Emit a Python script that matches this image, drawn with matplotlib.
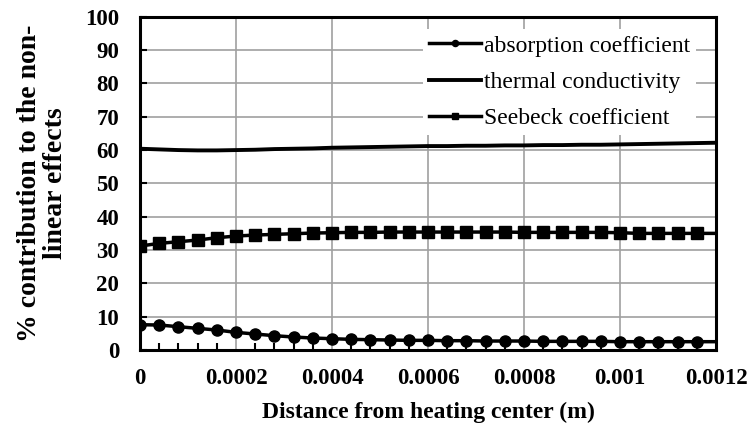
import matplotlib
matplotlib.use("Agg")
import matplotlib.pyplot as plt
from matplotlib.ticker import MultipleLocator

distance = [0.0, 0.00004, 0.00008, 0.00012, 0.00016, 0.0002, 0.00024, 0.00028,
            0.00032, 0.00036, 0.0004, 0.00044, 0.00048, 0.00052, 0.00056, 0.0006,
            0.00064, 0.00068, 0.00072, 0.00076, 0.0008, 0.00084, 0.00088, 0.00092,
            0.00096, 0.001, 0.00104, 0.00108, 0.00112, 0.00116, 0.0012]

absorption = [7.6, 7.5, 7.0, 6.5, 6.0, 5.3, 4.8, 4.3, 3.9, 3.6, 3.4, 3.2, 3.1, 3.0,
              2.9, 2.9, 2.8, 2.8, 2.7, 2.7, 2.7, 2.6, 2.6, 2.6, 2.6, 2.5, 2.5, 2.5,
              2.5, 2.5, 2.5]

thermal = [60.4, 60.2, 60.0, 59.9, 59.9, 60.0, 60.1, 60.3, 60.4, 60.5, 60.7, 60.8,
           60.9, 61.0, 61.1, 61.2, 61.2, 61.3, 61.3, 61.4, 61.4, 61.5, 61.5, 61.6,
           61.6, 61.7, 61.8, 61.9, 62.0, 62.1, 62.2]

seebeck = [31.2, 32.0, 32.5, 33.0, 33.7, 34.2, 34.5, 34.7, 34.9, 35.1, 35.2, 35.3,
           35.3, 35.4, 35.4, 35.4, 35.4, 35.4, 35.4, 35.4, 35.3, 35.3, 35.3, 35.3,
           35.3, 35.2, 35.0, 35.0, 35.0, 35.0, 35.0]

series_labels = ["absorption coefficient", "thermal conductivity", "Seebeck coefficient"]
x_ticks = [0.0, 0.0002, 0.0004, 0.0006, 0.0008, 0.001, 0.0012]
x_tick_labels = ["0", "0.0002", "0.0004", "0.0006", "0.0008", "0.001", "0.0012"]
y_ticks = [0, 10, 20, 30, 40, 50, 60, 70, 80, 90, 100]
y_tick_labels = ["0", "10", "20", "30", "40", "50", "60", "70", "80", "90", "100"]

serif = ["Liberation Serif", "DejaVu Serif"]
plt.rcParams["font.family"] = serif

fig = plt.figure(figsize=(7.5, 4.3), dpi=100)
ax = fig.add_axes([0.1867, 0.186, 0.768, 0.775])

mk = list(range(len(distance) - 1))
ax.plot(distance, absorption, color="black", lw=2.5, marker="o", ms=8,
        markevery=mk, label=series_labels[0], zorder=3)
ax.plot(distance, thermal, color="black", lw=2.8, label=series_labels[1], zorder=3)
ax.plot(distance, seebeck, color="black", lw=2.5, marker="s", ms=8,
        markevery=mk, label=series_labels[2], zorder=3)

ax.set_xlim(0, 0.0012)
ax.set_ylim(0, 100)
ax.set_xticks(x_ticks)
ax.set_xticklabels(x_tick_labels)
ax.set_yticks(y_ticks)
ax.set_yticklabels(y_tick_labels)
ax.xaxis.set_minor_locator(MultipleLocator(0.00004))

ax.grid(True, which="major", color="#a0a0a0", lw=1.2, zorder=0)
ax.tick_params(axis="x", which="major", length=0, pad=13, labelsize=16.5)
ax.tick_params(axis="x", which="minor", direction="in", length=5, width=1.5)
ax.tick_params(axis="y", which="major", direction="in", length=5, width=1.5,
               pad=15, labelsize=16.5)
for lab in ax.get_xticklabels() + ax.get_yticklabels():
    lab.set_fontweight("bold")
for s in ax.spines.values():
    s.set_linewidth(2.2)
    s.set_zorder(5)

leg = ax.legend(loc="upper right", bbox_to_anchor=(0.985, 0.998), fontsize=17,
                handlelength=2.2, handletextpad=0.1, labelspacing=0.62,
                borderpad=0.25, frameon=True, fancybox=False, framealpha=1,
                markerscale=0.55)
leg.get_frame().set_edgecolor("none")
leg.get_frame().set_facecolor("white")
leg.set_zorder(4)

ax.set_xlabel("Distance from heating center (m)", fontsize=17, fontweight="bold",
              labelpad=9)
ax.set_ylabel("% contribution to the non-\nlinear effects", fontsize=20,
              fontweight="bold", labelpad=12, linespacing=1.05)

fig.savefig("out.png", dpi=100)
